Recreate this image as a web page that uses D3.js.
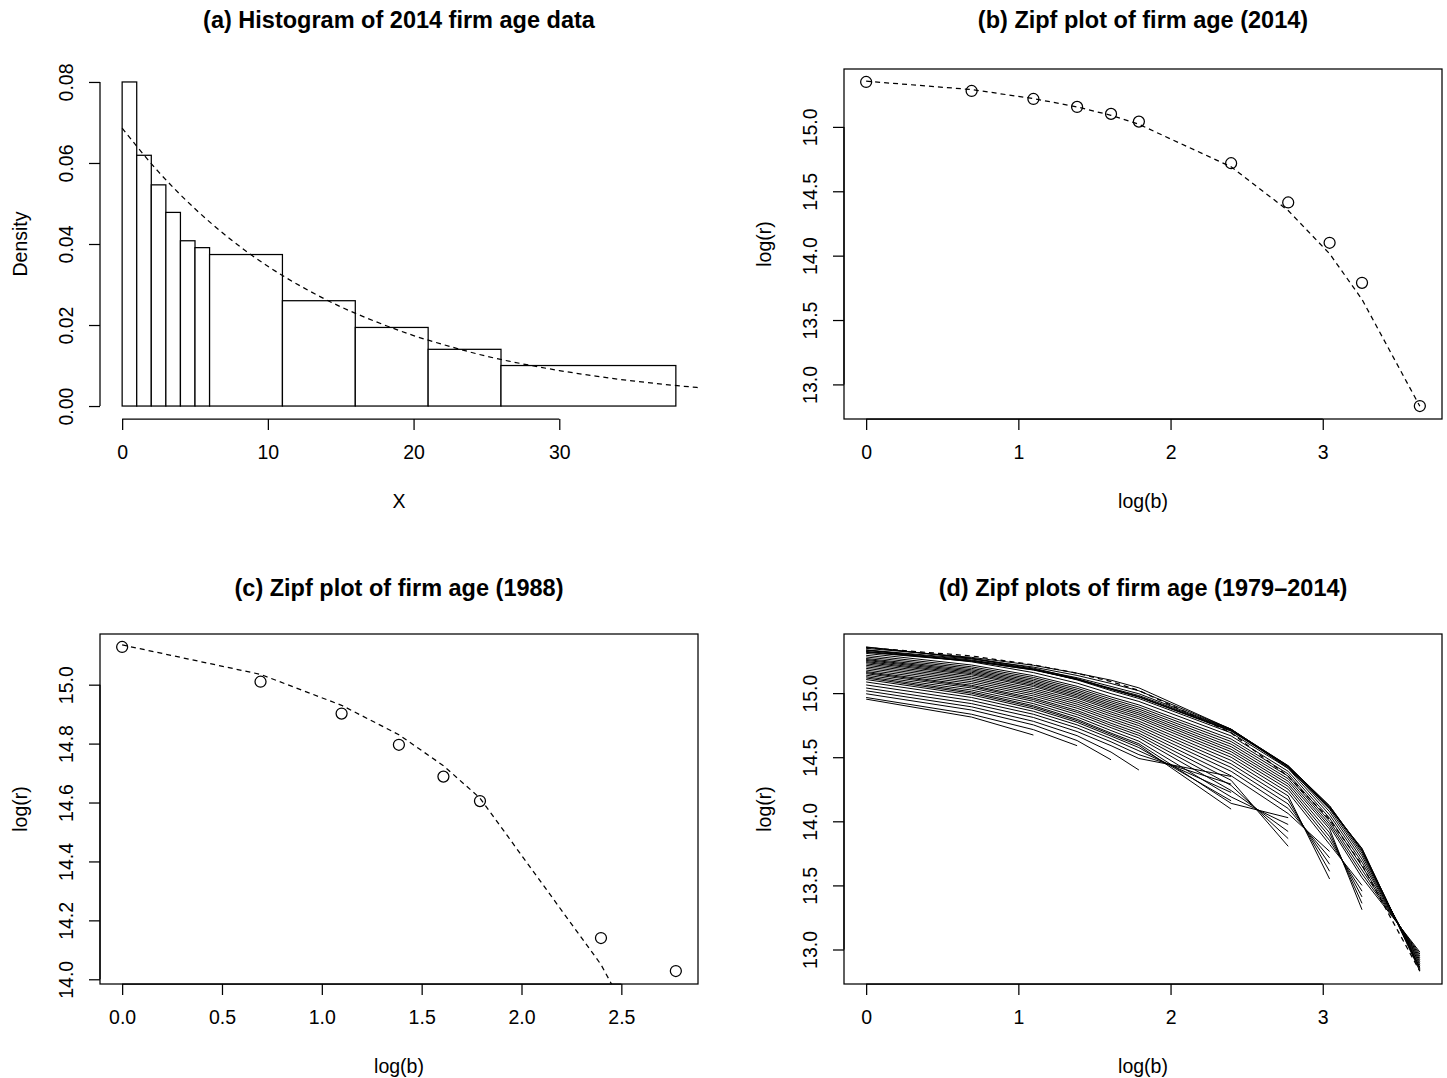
<!DOCTYPE html>
<html>
<head>
<meta charset="utf-8">
<script src="https://cdn.jsdelivr.net/npm/d3@7"></script>
<style>
body { margin: 0; background: #fff; }
text { font-family: "Liberation Sans", Arial, Helvetica, sans-serif; fill: #000; }
</style>
</head>
<body>
<script>
// ---- data ----
var histBreaks = [0, 1, 2, 3, 4, 5, 6, 11, 16, 21, 26, 38];
var histDensity = [0.0800, 0.0619, 0.0546, 0.0478, 0.0408, 0.0391, 0.0374, 0.0260, 0.0194, 0.0140, 0.0100];

// dashed density curve in (a)
var expX = [0, 2.5, 5, 7.5, 10, 12.5, 15, 17.5, 20, 22.5, 25, 27.5, 30, 32.5, 35, 37.5, 39.5];
var expDensity = [0.0686, 0.0578, 0.0487, 0.0410, 0.0345, 0.0291, 0.0245, 0.0207, 0.0174,
                  0.0147, 0.0123, 0.0104, 0.00876, 0.00738, 0.00622, 0.00524, 0.00457];

// x positions of the Zipf points
var logB = [0, 0.693, 1.099, 1.386, 1.609, 1.792, 2.398, 2.773, 3.045, 3.258, 3.638];

var logR2014 = [15.349, 15.279, 15.217, 15.155, 15.101, 15.041, 14.718, 14.413, 14.100, 13.789, 12.832];
var fit2014  = [15.355, 15.290, 15.220, 15.155, 15.090, 15.020, 14.690, 14.350, 14.015, 13.660, 12.830];

var logR1988 = [15.128, 15.010, 14.902, 14.796, 14.688, 14.605, 14.140, 14.028];
var fit1988  = [15.135, 15.035, 14.930, 14.830, 14.725, 14.615, 14.050, 13.580];

var years = [1979, 1980, 1981, 1982, 1983, 1984, 1985, 1986, 1987, 1988, 1989, 1990,
             1991, 1992, 1993, 1994, 1995, 1996, 1997, 1998, 1999, 2000, 2001, 2002,
             2003, 2004, 2005, 2006, 2007, 2008, 2009, 2010, 2011, 2012, 2013, 2014];
var logRByYear = [
  [14.953, 14.813, 14.673],
  [14.966, 14.835, 14.715, 14.590],
  [14.995, 14.868, 14.752, 14.630, 14.480],
  [15.018, 14.893, 14.780, 14.668, 14.540, 14.400],
  [15.040, 14.918, 14.810, 14.700, 14.590, 14.490, 14.350],
  [15.064, 14.942, 14.835, 14.728, 14.620, 14.520, 14.290],
  [15.087, 14.966, 14.858, 14.752, 14.645, 14.550, 14.225],
  [15.106, 14.986, 14.878, 14.772, 14.665, 14.575, 14.160],
  [15.118, 14.999, 14.891, 14.785, 14.678, 14.592, 14.095],
  [15.128, 15.010, 14.902, 14.796, 14.688, 14.605, 14.140, 14.028],
  [15.140, 15.024, 14.918, 14.814, 14.708, 14.625, 14.190, 13.975],
  [15.152, 15.040, 14.936, 14.833, 14.730, 14.650, 14.240, 13.920],
  [15.160, 15.052, 14.950, 14.850, 14.748, 14.670, 14.280, 13.865],
  [15.168, 15.061, 14.962, 14.864, 14.765, 14.688, 14.320, 13.805],
  [15.180, 15.075, 14.978, 14.882, 14.785, 14.708, 14.355, 14.060, 13.765],
  [15.193, 15.089, 14.993, 14.898, 14.802, 14.727, 14.390, 14.100, 13.715],
  [15.205, 15.103, 15.008, 14.914, 14.820, 14.746, 14.420, 14.135, 13.665],
  [15.217, 15.116, 15.022, 14.930, 14.837, 14.764, 14.448, 14.168, 13.610],
  [15.228, 15.129, 15.036, 14.945, 14.853, 14.781, 14.475, 14.198, 13.550],
  [15.238, 15.142, 15.051, 14.961, 14.870, 14.800, 14.500, 14.225, 13.820, 13.500],
  [15.246, 15.152, 15.062, 14.973, 14.884, 14.815, 14.522, 14.250, 13.850, 13.455],
  [15.255, 15.162, 15.074, 14.986, 14.898, 14.831, 14.543, 14.272, 13.880, 13.410],
  [15.262, 15.172, 15.085, 14.998, 14.911, 14.845, 14.562, 14.292, 13.910, 13.360],
  [15.270, 15.182, 15.097, 15.011, 14.925, 14.860, 14.582, 14.312, 13.940, 13.310],
  [15.282, 15.193, 15.109, 15.024, 14.939, 14.875, 14.602, 14.332, 13.960, 13.560, 12.980],
  [15.295, 15.205, 15.122, 15.038, 14.954, 14.891, 14.622, 14.352, 13.980, 13.590, 12.965],
  [15.310, 15.219, 15.136, 15.053, 14.970, 14.908, 14.642, 14.370, 14.000, 13.620, 12.950],
  [15.335, 15.244, 15.160, 15.078, 14.996, 14.935, 14.666, 14.390, 14.025, 13.650, 12.935],
  [15.360, 15.270, 15.186, 15.103, 15.020, 14.958, 14.690, 14.412, 14.050, 13.680, 12.920],
  [15.358, 15.273, 15.195, 15.113, 15.032, 14.970, 14.703, 14.425, 14.075, 13.705, 12.905],
  [15.335, 15.258, 15.185, 15.107, 15.030, 14.970, 14.707, 14.430, 14.095, 13.730, 12.890],
  [15.322, 15.250, 15.180, 15.106, 15.031, 14.973, 14.711, 14.432, 14.110, 13.750, 12.876],
  [15.318, 15.248, 15.182, 15.110, 15.038, 14.981, 14.716, 14.434, 14.120, 13.765, 12.862],
  [15.325, 15.253, 15.188, 15.120, 15.052, 14.995, 14.718, 14.430, 14.120, 13.775, 12.852],
  [15.337, 15.266, 15.203, 15.138, 15.075, 15.018, 14.719, 14.422, 14.110, 13.784, 12.842],
  [15.349, 15.279, 15.217, 15.155, 15.101, 15.041, 14.718, 14.413, 14.100, 13.789, 12.832]
];

var titles = ["(a) Histogram of 2014 firm age data", "(b) Zipf plot of firm age (2014)",
              "(c) Zipf plot of firm age (1988)", "(d) Zipf plots of firm age (1979\u20132014)"];

// ---- layout ----
var W = 598, H = 350;
var LW = 1.25;

var svg = d3.select("body").append("svg")
  .attr("width", 1447).attr("height", 1078);

// R style 4% axis expansion
function pad(lo, hi) {
  var r = hi - lo;
  return [lo - 0.04 * r, hi + 0.04 * r];
}

function panel(id, px, py) {
  svg.append("clipPath").attr("id", "clip" + id)
    .append("rect").attr("width", W).attr("height", H);
  return svg.append("g").attr("transform", "translate(" + px + "," + py + ")");
}

function styleAxis(ax) {
  ax.selectAll("path, line").attr("stroke", "#000").attr("stroke-width", LW);
  ax.selectAll("text").attr("fill", "#000").style("font-size", "19.5px");
}

function xAxis(g, x, ticks, fmt) {
  var ax = g.append("g").attr("transform", "translate(0," + H + ")")
    .call(d3.axisBottom(x).tickValues(ticks).tickFormat(fmt).tickSize(11).tickPadding(15));
  ax.select(".domain").attr("d", "M" + x(ticks[0]) + ",0H" + x(ticks[ticks.length - 1]));
  styleAxis(ax);
}

function yAxis(g, y, ticks, fmt) {
  var ax = g.append("g")
    .call(d3.axisLeft(y).tickValues(ticks).tickFormat(fmt).tickSize(11));
  ax.select(".domain").attr("d", "M0," + y(ticks[0]) + "V" + y(ticks[ticks.length - 1]));
  ax.selectAll(".tick text")
    .attr("transform", "rotate(-90)")
    .attr("x", 0).attr("y", -27).attr("dy", null)
    .attr("text-anchor", "middle");
  styleAxis(ax);
}

function labels(g, title, xlab, ylab, titleY) {
  g.append("text").attr("x", W / 2).attr("y", titleY)
    .attr("text-anchor", "middle").style("font-size", "23.5px").style("font-weight", "bold")
    .text(title);
  g.append("text").attr("x", W / 2).attr("y", H + 89)
    .attr("text-anchor", "middle").style("font-size", "19.5px")
    .text(xlab);
  g.append("text").attr("transform", "translate(-73," + (H / 2) + ") rotate(-90)")
    .attr("text-anchor", "middle").style("font-size", "19.5px")
    .text(ylab);
}

function box(g) {
  g.append("rect").attr("width", W).attr("height", H)
    .attr("fill", "none").attr("stroke", "#000").attr("stroke-width", LW);
}

// ---- (a) histogram ----
(function () {
  var g = panel("a", 100, 69);
  var x = d3.scaleLinear().domain(pad(0, 38)).range([0, W]);
  var y = d3.scaleLinear().domain(pad(0, 0.08)).range([H, 0]);
  var bins = histDensity.map(function (d, i) { return { x0: histBreaks[i], x1: histBreaks[i + 1], d: d }; });

  g.selectAll("rect.bar").data(bins).enter().append("rect")
    .attr("class", "bar")
    .attr("x", function (b) { return x(b.x0); })
    .attr("width", function (b) { return x(b.x1) - x(b.x0); })
    .attr("y", function (b) { return y(b.d); })
    .attr("height", function (b) { return y(0) - y(b.d); })
    .attr("fill", "#fff").attr("stroke", "#000").attr("stroke-width", LW);

  var curve = d3.line().curve(d3.curveMonotoneX)
    .x(function (d, i) { return x(expX[i]); })
    .y(function (d) { return y(d); });
  g.append("path").datum(expDensity).attr("d", curve)
    .attr("clip-path", "url(#clipa)")
    .attr("fill", "none").attr("stroke", "#000").attr("stroke-width", LW)
    .attr("stroke-dasharray", "5,4");

  xAxis(g, x, [0, 10, 20, 30], d3.format("d"));
  yAxis(g, y, [0, 0.02, 0.04, 0.06, 0.08], d3.format(".2f"));
  labels(g, titles[0], "X", "Density", -41);
})();

// ---- (b) Zipf 2014 ----
(function () {
  var g = panel("b", 844, 69);
  var x = d3.scaleLinear().domain(pad(0, d3.max(logB))).range([0, W]);
  var y = d3.scaleLinear().domain(pad(d3.min(logR2014), d3.max(logR2014))).range([H, 0]);
  var line = d3.line().x(function (d, i) { return x(logB[i]); }).y(function (d) { return y(d); });

  g.append("path").datum(fit2014).attr("d", line)
    .attr("clip-path", "url(#clipb)")
    .attr("fill", "none").attr("stroke", "#000").attr("stroke-width", LW)
    .attr("stroke-dasharray", "5,4");
  g.selectAll("circle").data(logR2014).enter().append("circle")
    .attr("cx", function (d, i) { return x(logB[i]); })
    .attr("cy", function (d) { return y(d); })
    .attr("r", 5.5).attr("fill", "none").attr("stroke", "#000").attr("stroke-width", LW);

  box(g);
  xAxis(g, x, [0, 1, 2, 3], d3.format("d"));
  yAxis(g, y, [13, 13.5, 14, 14.5, 15], d3.format(".1f"));
  labels(g, titles[1], "log(b)", "log(r)", -41);
})();

// ---- (c) Zipf 1988 ----
(function () {
  var g = panel("c", 100, 634);
  var xs = logB.slice(0, logR1988.length);
  var x = d3.scaleLinear().domain(pad(0, d3.max(xs))).range([0, W]);
  var y = d3.scaleLinear().domain(pad(d3.min(logR1988), d3.max(logR1988))).range([H, 0]);
  var line = d3.line().x(function (d, i) { return x(xs[i]); }).y(function (d) { return y(d); });

  g.append("path").datum(fit1988).attr("d", line)
    .attr("clip-path", "url(#clipc)")
    .attr("fill", "none").attr("stroke", "#000").attr("stroke-width", LW)
    .attr("stroke-dasharray", "5,4");
  g.selectAll("circle").data(logR1988).enter().append("circle")
    .attr("cx", function (d, i) { return x(xs[i]); })
    .attr("cy", function (d) { return y(d); })
    .attr("r", 5.5).attr("fill", "none").attr("stroke", "#000").attr("stroke-width", LW);

  box(g);
  xAxis(g, x, [0, 0.5, 1, 1.5, 2, 2.5], d3.format(".1f"));
  yAxis(g, y, [14, 14.2, 14.4, 14.6, 14.8, 15], d3.format(".1f"));
  labels(g, titles[2], "log(b)", "log(r)", -38);
})();

// ---- (d) all years ----
(function () {
  var g = panel("d", 844, 634);
  var all = d3.merge(logRByYear);
  var x = d3.scaleLinear().domain(pad(0, d3.max(logB))).range([0, W]);
  var y = d3.scaleLinear().domain(pad(d3.min(all), d3.max(all))).range([H, 0]);
  var line = d3.line().x(function (d, i) { return x(logB[i]); }).y(function (d) { return y(d); });

  g.selectAll("path.yr").data(logRByYear).enter().append("path")
    .attr("class", "yr")
    .attr("d", line)
    .attr("fill", "none").attr("stroke", "#000").attr("stroke-width", 1);
  g.append("path").datum(fit2014).attr("d", line)
    .attr("clip-path", "url(#clipd)")
    .attr("fill", "none").attr("stroke", "#000").attr("stroke-width", LW)
    .attr("stroke-dasharray", "5,4");

  box(g);
  xAxis(g, x, [0, 1, 2, 3], d3.format("d"));
  yAxis(g, y, [13, 13.5, 14, 14.5, 15], d3.format(".1f"));
  labels(g, titles[3], "log(b)", "log(r)", -38);
})();
</script>
</body>
</html>
